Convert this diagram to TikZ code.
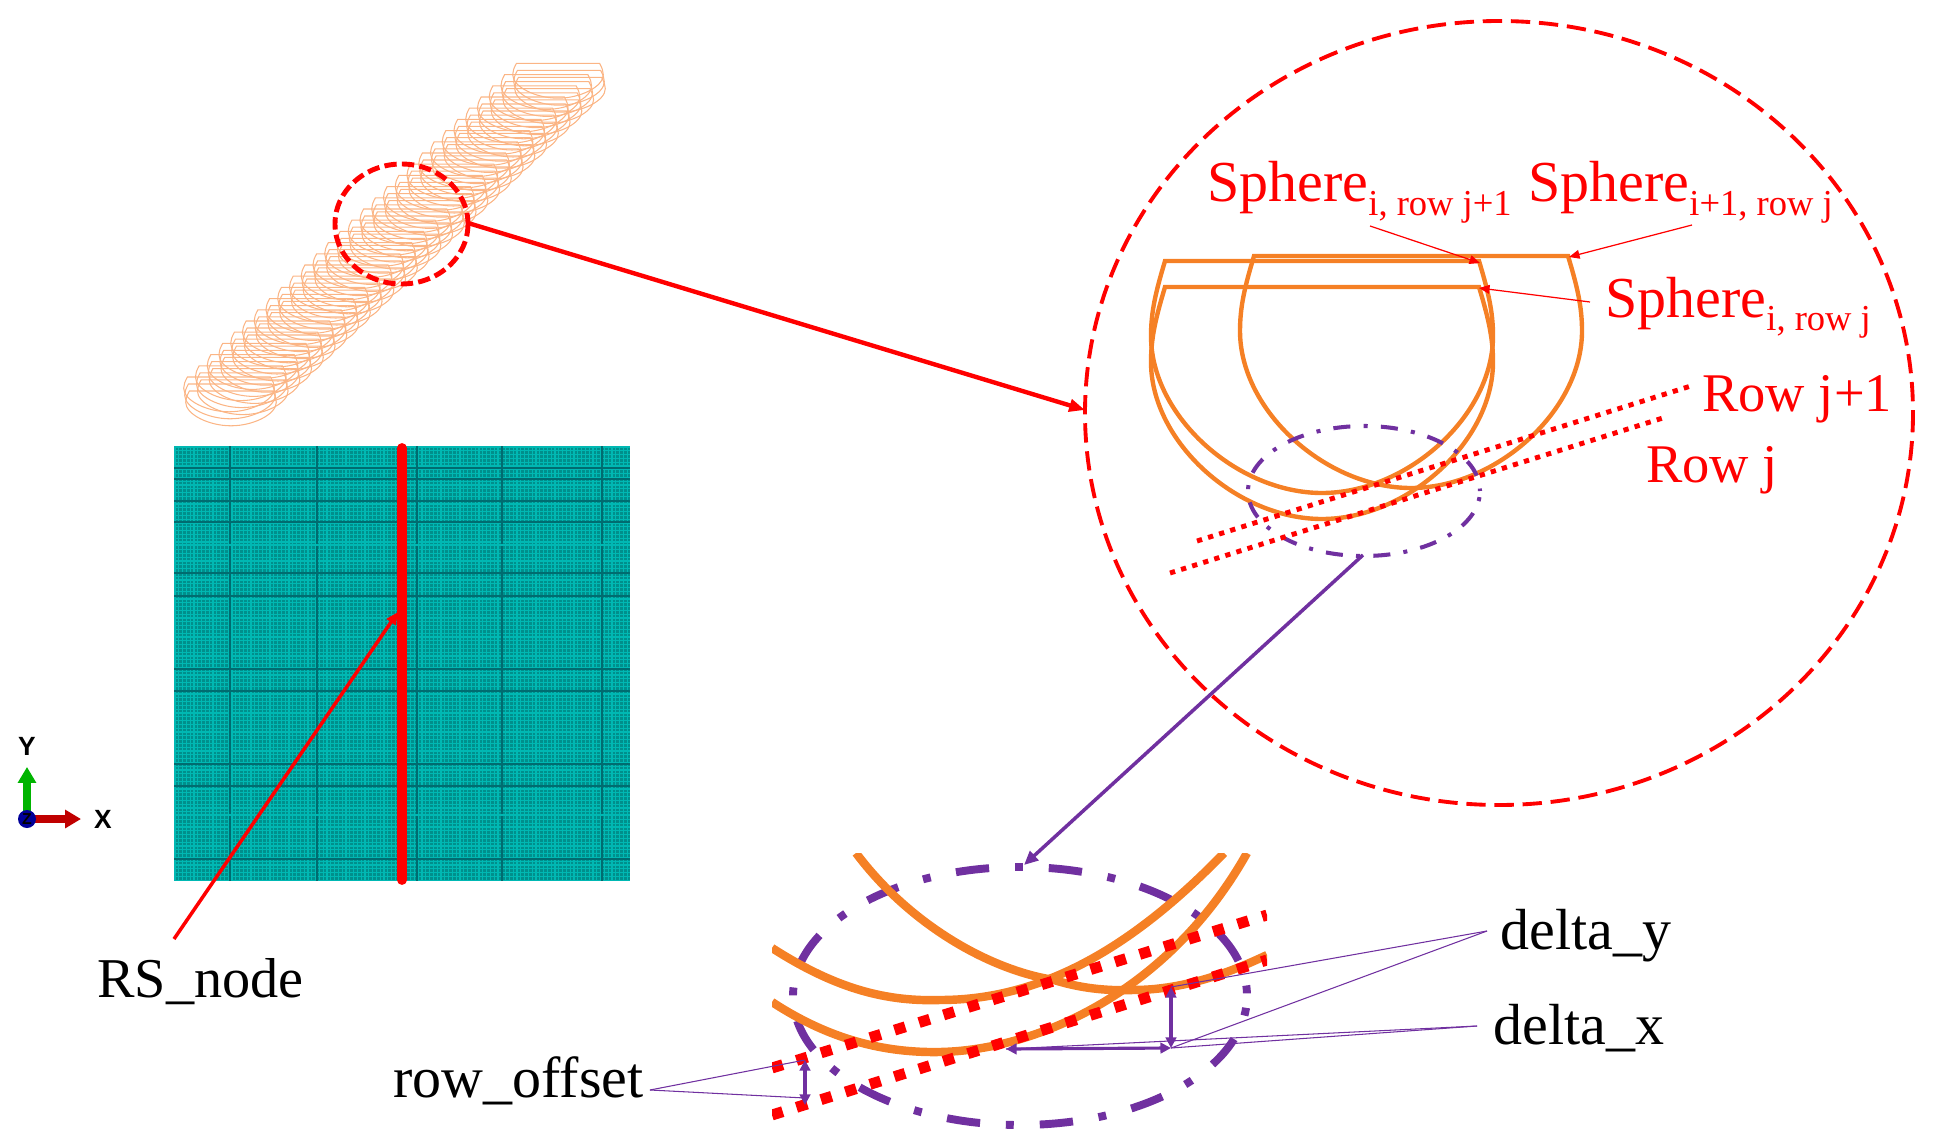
\documentclass[tikz,border=0pt]{standalone}
\usepackage{fontspec}
\setmainfont{Liberation Serif}
\setsansfont{Liberation Sans}
\usetikzlibrary{arrows.meta}
\definecolor{org}{HTML}{F58025}
\definecolor{orgl}{HTML}{FBB585}
\definecolor{pur}{HTML}{7030A0}
\definecolor{meshb}{HTML}{008F8C}
\definecolor{meshl}{HTML}{00B8B3}
\definecolor{meshd}{HTML}{006C70}
\definecolor{axg}{HTML}{00B400}
\definecolor{axr}{HTML}{C00000}
\newcommand{\lowtxt}[1]{\raisebox{-7.5pt}{\fontsize{20.8}{24}\selectfont #1}}
\tikzset{
  lbl/.style={anchor=base west,inner sep=0pt,font=\fontsize{33}{38}\selectfont},
  rlbl/.style={lbl,text=red},
  rrow/.style={rlbl,font=\fontsize{31}{36}\selectfont},
  ax/.style={inner sep=0pt,font=\sffamily\bfseries\fontsize{15}{17}\selectfont},
  ar/.style={-{Triangle[length=9pt,width=7pt]},line width=2.5pt,draw=red},
  tar/.style={-{Triangle[length=6pt,width=5pt]},line width=0.7pt,draw=red},
  par/.style={{Triangle[length=6pt,width=6pt]}-{Triangle[length=6pt,width=6pt]},line width=1.8pt,draw=pur},
  lead/.style={line width=0.6pt,draw=pur},
  rowdot/.style={draw=red,line width=2.8pt,dash pattern=on 3pt off 3.6pt},
  rowbig/.style={draw=red,line width=6.2pt,dash pattern=on 6.4pt off 8.2pt},
  stk/.style={draw=orgl,line width=0.6pt,xscale=0.265,yscale=0.15},
  pics/bowl/.style={code={
    \draw[pic actions] (-157,0) -- (157,0) .. controls (166,30) and (171,50) .. (171,75)
      .. controls (171,155) and (85,232) .. (0,232) .. controls (-85,232) and (-171,155) .. (-171,75)
      .. controls (-171,50) and (-166,30) .. (-157,0) -- cycle;
  }},
}
\begin{document}
\begin{tikzpicture}[x=0.02cm,y=-0.02cm]
  \useasboundingbox (0,0) rectangle (1933,1145);
  % sphere stack
  \foreach \i in {0,...,28} {
    \pic[stk] at ({229+11.75*\i},{377-11.2*\i}) {bowl};
    \pic[stk] at ({230+11.75*\i},{384-11.2*\i}) {bowl};
    \pic[stk] at ({231+11.75*\i},{391-11.2*\i}) {bowl};
  }
  \path[draw=red,line width=2.8pt,dash pattern=on 7pt off 3pt] (401.5,224) ellipse (66.5 and 60);
  % mesh
  \fill[meshb] (174,446) rectangle (630,881);
  \foreach \i in {0,...,119} \draw[meshl,line width=0.6pt] ({175+3.8*\i},446) -- ({175+3.8*\i},881);
  \foreach \i in {0,...,114} \draw[meshl,line width=0.6pt] (174,{447+3.8*\i}) -- (630,{447+3.8*\i});
  \foreach \v in {230,317,417,502,602} \draw[meshd,line width=0.6pt] (\v,446) -- (\v,881);
  \foreach \v in {468,479,501,522,573,596,669,691,764,786,859} \draw[meshd,line width=0.6pt] (174,\v) -- (630,\v);
  \foreach \v in {545,815} \draw[meshl,line width=0.8pt] (174,\v) -- (630,\v);
  \draw[red,line width=5.6pt,line cap=round] (402,448) -- (402,880);
  % triad
  \coordinate (o) at (27,819);
  \coordinate (ox) at (81,819);
  \coordinate (oy) at (27,767);
  \draw[-{Triangle[length=9pt,width=10pt]},line width=4pt,draw=axg] (o) -- (oy);
  \draw[-{Triangle[length=9pt,width=10pt]},line width=4pt,draw=axr] (o) -- (ox);
  \fill[blue!60!black] (o) circle (9);
  \node[ax,font=\sffamily\bfseries\fontsize{9}{10}\selectfont] (zl) at (o) {Z};
  \node[ax] (xl) at (103,819) {X};
  \node[ax] (yl) at (27,746) {Y};
  % RS node
  \coordinate (rsa) at (174,939);
  \coordinate (rsb) at (398,612);
  \draw[ar,-{Triangle[length=7pt,width=6pt]},line width=2pt] (rsa) -- (rsb);
  \node[lbl,font=\fontsize{32}{37}\selectfont] (rs) at (97,997) {RS\_node};
  % big circle
  \draw[red,line width=2.2pt,dash pattern=on 11pt off 5pt] (1499,413) ellipse (414 and 392);
  \coordinate (za) at (468,223);
  \coordinate (zb) at (1085,410);
  \draw[ar] (za) -- (zb);
  % spheres
  \pic[draw=org,line width=2.5pt] at (1322,261) {bowl};
  \pic[draw=org,line width=2.5pt] at (1322,287) {bowl};
  \pic[draw=org,line width=2.5pt] at (1411,256) {bowl};
  \draw[pur,line width=2.3pt,dash pattern=on 9.7pt off 7.6pt on 2.3pt off 7.5pt,dash phase=13.8pt] (1364,491) ellipse (116 and 65);
  \draw[rowdot] (1197,541) -- (1694,385);
  \draw[rowdot] (1170,573) -- (1666,417);
  \node[rlbl] (sa) at (1207,202) {Sphere\lowtxt{i, row j+1}};
  \node[rlbl] (sb) at (1528,202) {Sphere\lowtxt{i+1, row j}};
  \node[rlbl] (sc) at (1605,317) {Sphere\lowtxt{i, row j}};
  \node[rrow] (ra) at (1702,411) {Row j+1};
  \node[rrow] (rb) at (1646,482) {Row j};
  \coordinate (sa1) at (1370,226);
  \coordinate (sa2) at (1480,263);
  \coordinate (sb1) at (1692,225);
  \coordinate (sb2) at (1569,257);
  \coordinate (sc1) at (1590,302);
  \coordinate (sc2) at (1479,288);
  \draw[tar] (sa1) -- (sa2);
  \draw[tar] (sb1) -- (sb2);
  \draw[tar] (sc1) -- (sc2);
  % detail
  \coordinate (da) at (1363,555);
  \coordinate (db) at (1024,865);
  \draw[ar,draw=pur,line width=2pt,-{Triangle[length=8pt,width=7pt]}] (da) -- (db);
  \begin{scope}
    \clip (772,853) rectangle (1267,1135);
    \draw[pur,line width=4.5pt,dash pattern=on 19pt off 14.8pt on 4.5pt off 14.7pt,dash phase=27.05pt] (1020,996) ellipse (227 and 129);
    \draw[org,line width=4.8pt] (856,853) .. controls (910,925) and (990,970) .. (1054,980)
      .. controls (1080,988) and (1105,991) .. (1133,990) .. controls (1180,990) and (1225,975) .. (1267,955);
    \draw[org,line width=4.8pt] (772,948) .. controls (830,985) and (880,1002) .. (940,1000)
      .. controls (1040,1000) and (1130,950) .. (1224,853);
    \draw[org,line width=4.8pt] (772,1002) .. controls (830,1040) and (885,1053) .. (940,1052)
      .. controls (1040,1050) and (1170,990) .. (1247,853);
    \draw[rowbig] (772,1068) -- (1267,915);
    \draw[rowbig] (772,1115) -- (1267,960);
  \end{scope}
  \coordinate (dya) at (1171,987);
  \coordinate (dyb) at (1171,1048);
  \coordinate (dxa) at (1006,1049);
  \coordinate (roa) at (805,1060);
  \coordinate (rob) at (805,1105);
  \coordinate (roc) at (805,1098);
  \draw[par] (dya) -- (dyb);
  \draw[par] (dxa) -- (dyb);
  \draw[par] (roa) -- (rob);
  \node[lbl] (dy) at (1500,949) {delta\_y};
  \node[lbl] (dx) at (1493,1044) {delta\_x};
  \node[lbl] (ro) at (393,1097) {row\_offset};
  \coordinate (ly) at (1487,931);
  \coordinate (lx) at (1477,1026);
  \coordinate (lr) at (650,1090);
  \draw[lead] (ly) -- (dya);
  \draw[lead] (ly) -- (dyb);
  \draw[lead] (lx) -- (dxa);
  \draw[lead] (lx) -- (dyb);
  \draw[lead] (lr) -- (roa);
  \draw[lead] (lr) -- (roc);
\end{tikzpicture}
\end{document}
